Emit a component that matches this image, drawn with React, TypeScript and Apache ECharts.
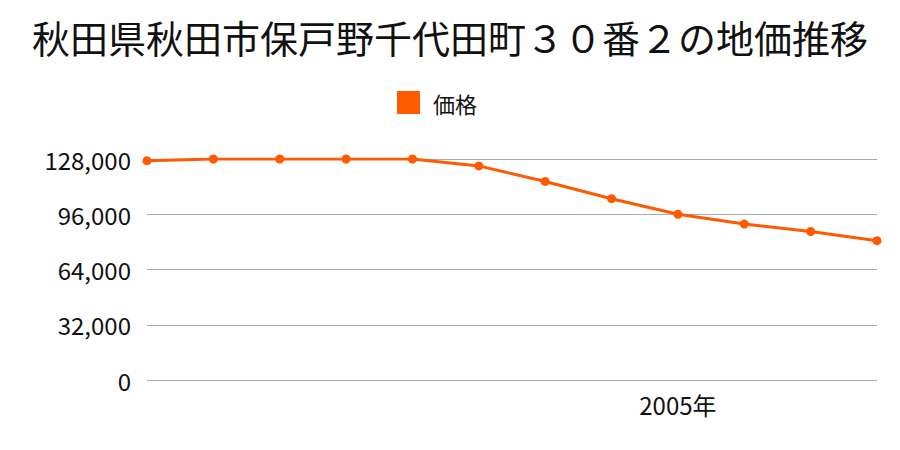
import React, { useEffect, useRef } from "react";
import * as echarts from "echarts";

const title = "秋田県秋田市保戸野千代田町３０番２の地価推移";
const seriesName = "価格";
const years = ["1997年", "1998年", "1999年", "2000年", "2001年", "2002年", "2003年", "2004年", "2005年", "2006年", "2007年", "2008年"];
const prices = [127000, 128000, 128000, 128000, 128000, 124000, 115000, 105000, 96000, 90300, 86000, 80700];
const shownLabels = ["2005年"];

const FONT = "'Noto Sans CJK JP', 'Noto Sans', sans-serif";

export default function App() {
  const ref = useRef<HTMLDivElement>(null);
  useEffect(() => {
    const chart = echarts.init(ref.current!, null, { renderer: "svg" });
    chart.setOption({
      animation: false,
      title: {
        text: title,
        left: "center",
        top: 12,
        textStyle: { fontSize: 38, fontWeight: "normal", color: "#111", fontFamily: FONT },
      },
      legend: {
        data: [seriesName],
        top: 91,
        left: 397,
        padding: 0,
        itemWidth: 23,
        itemHeight: 23,
        itemGap: 10,
        icon: "rect",
        textStyle: { fontSize: 22, color: "#111", fontFamily: FONT, padding: [0, 0, 0, 8] },
      },
      grid: { left: 147, right: 23, top: 159, bottom: 70, containLabel: false },
      xAxis: {
        type: "category",
        data: years,
        boundaryGap: false,
        axisLine: { show: false },
        axisTick: { show: false },
        axisLabel: {
          interval: 0,
          formatter: (v: string) => (shownLabels.includes(v) ? v : ""),
          fontSize: 24,
          color: "#111",
          margin: 12,
          fontFamily: FONT,
        },
      },
      yAxis: {
        type: "value",
        min: 0,
        max: 128000,
        interval: 32000,
        axisLine: { show: false },
        axisTick: { show: false },
        splitLine: { lineStyle: { color: "#aaaaaa", width: 1 } },
        axisLabel: {
          fontSize: 24,
          color: "#111",
          margin: 16,
          fontFamily: FONT,
          formatter: (v: number) => v.toLocaleString("en-US"),
        },
      },
      series: [
        {
          name: seriesName,
          type: "line",
          data: prices,
          color: "#ff5a00",
          symbol: "circle",
          symbolSize: 9,
          lineStyle: { width: 3, color: "#ff5a00" },
          itemStyle: { color: "#ff5a00" },
        },
      ],
    });
    return () => chart.dispose();
  }, []);
  return <div ref={ref} style={{ width: 900, height: 450, position: "absolute", left: 0, top: 0 }} />;
}
